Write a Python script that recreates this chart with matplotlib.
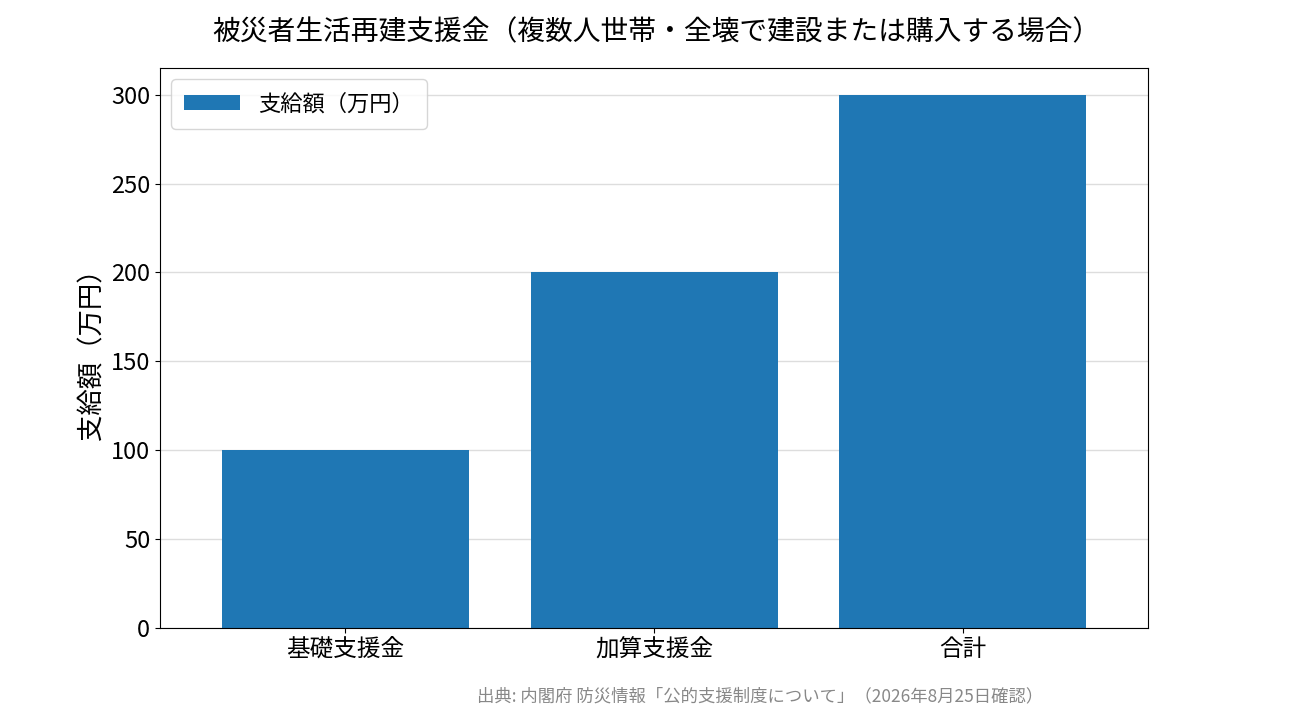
import matplotlib
matplotlib.use("Agg")
import matplotlib.pyplot as plt

plt.rcParams['font.family'] = ['Noto Sans CJK JP', 'DejaVu Sans']

categories = ["基礎支援金", "加算支援金", "合計"]
values = [100, 200, 300]
title = "被災者生活再建支援金（複数人世帯・全壊で建設または購入する場合）"
source = "出典: 内閣府 防災情報「公的支援制度について」（2026年8月25日確認）"

fig = plt.figure(figsize=(13.12, 7.25), dpi=100)
ax = fig.add_axes([160/1312, 1-628/725, (1148-160)/1312, (628-68)/725])
ax.bar(categories, values, width=0.8, color="#1f77b4", label="支給額（万円）", zorder=2)
ax.set_ylim(0, 315)
ax.set_xlim(-0.6, 2.6)
ax.yaxis.grid(True, color="#dddddd", linewidth=1, zorder=0)
ax.set_axisbelow(True)
ax.tick_params(labelsize=17)
ax.set_ylabel("支給額（万円）", fontsize=19)
ax.legend(loc="upper left", fontsize=16, borderpad=0.6, handlelength=2.5)
fig.text(0.5, 1-32/725, title, ha="center", va="center", fontsize=20)
fig.text(760/1312, 1-696/725, source, ha="center", va="center", fontsize=12.5, color="#888888")
fig.savefig("out.png", dpi=100)
